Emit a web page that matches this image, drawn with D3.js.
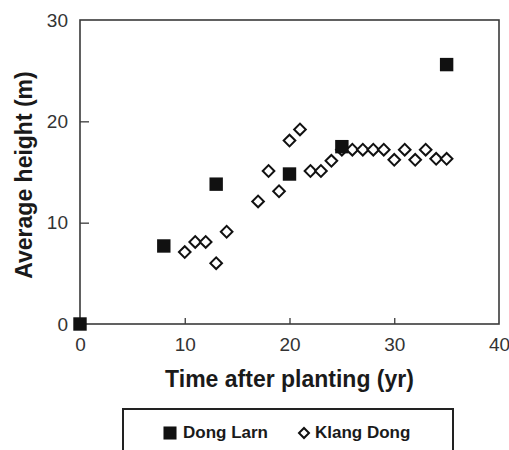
<!DOCTYPE html>
<html>
<head>
<meta charset="utf-8">
<script src="https://cdn.jsdelivr.net/npm/d3@7"></script>
<style>
  html, body { margin: 0; padding: 0; background: #fff; }
  svg { display: block; }
  text { font-family: "Liberation Sans", Arial, sans-serif; }
</style>
</head>
<body>
<svg id="chart" width="509" height="450"></svg>
<script>
// Data
const dongLarnYears = [0, 8, 13, 20, 25, 35];
const dongLarnHeights = [0, 7.7, 13.8, 14.8, 17.5, 25.6];

const klangDongYears = [10, 11, 12, 13, 14, 17, 18, 19, 20, 21, 22, 23, 24, 25, 26, 27, 28, 29, 30, 31, 32, 33, 34, 35];
const klangDongHeights = [7.1, 8.1, 8.1, 6.0, 9.1, 12.1, 15.1, 13.1, 18.1, 19.2, 15.1, 15.1, 16.1, 17.2, 17.2, 17.2, 17.2, 17.2, 16.2, 17.2, 16.2, 17.2, 16.3, 16.3];

const xTicks = [0, 10, 20, 30, 40];
const yTicks = [0, 10, 20, 30];
const seriesNames = ["Dong Larn", "Klang Dong"];
const xTitle = "Time after planting (yr)";
const yTitle = "Average height (m)";

const svg = d3.select("#chart");
const mLeft = 80, mRight = 499, mTop = 20, mBottom = 324;

const x = d3.scaleLinear().domain([0, 40]).range([mLeft, mRight]);
const y = d3.scaleLinear().domain([0, 30]).range([mBottom, mTop]);

const axisColor = "#3a3a3a";

// Frame
svg.append("rect")
  .attr("x", mLeft).attr("y", mTop)
  .attr("width", mRight - mLeft).attr("height", mBottom - mTop)
  .attr("fill", "none").attr("stroke", axisColor).attr("stroke-width", 1.6);

// X axis (inward ticks)
const xAxis = d3.axisBottom(x).tickValues(xTicks).tickSizeInner(-6).tickSizeOuter(0).tickPadding(18);
const gx = svg.append("g").attr("transform", `translate(0,${mBottom})`).call(xAxis);
gx.select(".domain").remove();
gx.selectAll(".tick line").attr("stroke", axisColor).attr("stroke-width", 1.3)
  .attr("display", d => (d === 0 || d === 40) ? "none" : null);
gx.selectAll(".tick text").attr("font-size", 19).attr("fill", "#333")
  .attr("font-family", "Liberation Sans, Arial, sans-serif").attr("dy", "0.71em").attr("y", 14);

// Y axis (inward ticks)
const yAxis = d3.axisLeft(y).tickValues(yTicks).tickSizeInner(-9).tickSizeOuter(0).tickPadding(12);
const gy = svg.append("g").attr("transform", `translate(${mLeft},0)`).call(yAxis);
gy.select(".domain").remove();
gy.selectAll(".tick line").attr("stroke", axisColor).attr("stroke-width", 1.3)
  .attr("display", d => (d === 0 || d === 30) ? "none" : null);
gy.selectAll(".tick text").attr("font-size", 19).attr("fill", "#333")
  .attr("font-family", "Liberation Sans, Arial, sans-serif").attr("x", -12);

// Titles
svg.append("text")
  .attr("x", (mLeft + mRight) / 2).attr("y", 387)
  .attr("text-anchor", "middle").attr("font-size", 23).attr("font-weight", "bold")
  .attr("fill", "#1a1a1a").text(xTitle);

svg.append("text")
  .attr("transform", `translate(32,${(mTop + mBottom) / 2 + 3}) rotate(-90)`)
  .attr("text-anchor", "middle").attr("font-size", 23).attr("font-weight", "bold")
  .attr("fill", "#1a1a1a").text(yTitle);

// Klang Dong diamonds
const diamond = d3.symbol().type(d3.symbolSquare).size(68);
const kd = klangDongYears.map((t, i) => ({ t, h: klangDongHeights[i] }));
svg.append("g").selectAll("path").data(kd).join("path")
  .attr("d", diamond)
  .attr("transform", d => `translate(${x(d.t)},${y(d.h)}) rotate(45)`)
  .attr("fill", "#fff").attr("stroke", "#111").attr("stroke-width", 2);

// Dong Larn squares
const square = d3.symbol().type(d3.symbolSquare).size(180);
const dl = dongLarnYears.map((t, i) => ({ t, h: dongLarnHeights[i] }));
svg.append("g").selectAll("path").data(dl).join("path")
  .attr("d", square)
  .attr("transform", d => `translate(${x(d.t)},${y(d.h)})`)
  .attr("fill", "#111");

// Legend
svg.append("rect")
  .attr("x", 123).attr("y", 409).attr("width", 330).attr("height", 60)
  .attr("fill", "none").attr("stroke", "#222").attr("stroke-width", 2);

const lg = svg.append("g");
lg.append("path").attr("d", d3.symbol().type(d3.symbolSquare).size(170))
  .attr("transform", "translate(170,433)").attr("fill", "#111");
lg.append("text").attr("x", 183).attr("y", 438).attr("font-size", 17).attr("font-weight", "bold")
  .attr("fill", "#1a1a1a").text(seriesNames[0]);
lg.append("path").attr("d", d3.symbol().type(d3.symbolSquare).size(50))
  .attr("transform", "translate(304,433) rotate(45)")
  .attr("fill", "#fff").attr("stroke", "#111").attr("stroke-width", 2);
lg.append("text").attr("x", 315).attr("y", 438).attr("font-size", 17).attr("font-weight", "bold")
  .attr("fill", "#1a1a1a").text(seriesNames[1]);
</script>
</body>
</html>
